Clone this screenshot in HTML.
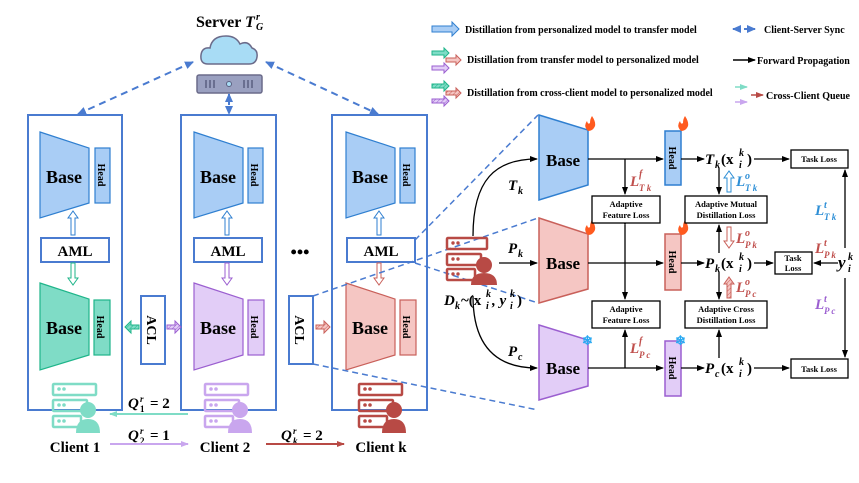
<!DOCTYPE html>
<html><head><meta charset="utf-8"><style>
html,body{margin:0;padding:0;background:#fff;}
svg{display:block;font-family:"Liberation Serif",serif;font-weight:bold;}
.m{font-style:italic;}
</style></head><body>
<svg width="859" height="483" viewBox="0 0 859 483" xmlns="http://www.w3.org/2000/svg">
<defs>
<marker id="ak" markerWidth="8" markerHeight="8" refX="7" refY="4" orient="auto" markerUnits="userSpaceOnUse"><path d="M0,1 L8,4 L0,7 Z" fill="#000"/></marker>
<marker id="ab" markerWidth="9" markerHeight="9" refX="8" refY="4.5" orient="auto" markerUnits="userSpaceOnUse"><path d="M0,0.5 L9,4.5 L0,8.5 Z" fill="#4a7bd0"/></marker>
<marker id="abs" markerWidth="9" markerHeight="9" refX="1" refY="4.5" orient="auto" markerUnits="userSpaceOnUse"><path d="M9,0.5 L0,4.5 L9,8.5 Z" fill="#4a7bd0"/></marker>
<marker id="ag" markerWidth="8" markerHeight="8" refX="7" refY="4" orient="auto" markerUnits="userSpaceOnUse"><path d="M0,1 L8,4 L0,7 Z" fill="#7fdcc6"/></marker>
<marker id="ap" markerWidth="8" markerHeight="8" refX="7" refY="4" orient="auto" markerUnits="userSpaceOnUse"><path d="M0,1 L8,4 L0,7 Z" fill="#c9a6ee"/></marker>
<marker id="ar" markerWidth="8" markerHeight="8" refX="7" refY="4" orient="auto" markerUnits="userSpaceOnUse"><path d="M0,1 L8,4 L0,7 Z" fill="#b84a45"/></marker>
<pattern id="hg" width="3" height="3" patternUnits="userSpaceOnUse" patternTransform="rotate(45)"><rect width="3" height="3" fill="#7fdcc6"/><line x1="0" y1="0" x2="0" y2="3" stroke="#1fb58a" stroke-width="1"/></pattern>
<pattern id="hp" width="3" height="3" patternUnits="userSpaceOnUse" patternTransform="rotate(45)"><rect width="3" height="3" fill="#e2cdf7"/><line x1="0" y1="0" x2="0" y2="3" stroke="#9b5fd0" stroke-width="1"/></pattern>
<pattern id="hr" width="3" height="3" patternUnits="userSpaceOnUse" patternTransform="rotate(45)"><rect width="3" height="3" fill="#f5c6c3"/><line x1="0" y1="0" x2="0" y2="3" stroke="#c9605a" stroke-width="1"/></pattern>
</defs>

<!-- Server -->
<text x="196" y="27" font-size="16">Server <tspan class="m">T</tspan></text>
<text x="256" y="20" font-size="10" class="m">r</text>
<text x="256" y="30" font-size="10" class="m">G</text>
<path d="M208,64 Q200,64 201,55 Q202,47 210,48 Q212,36 226,36 Q236,36 240,44 Q248,40 252,48 Q258,50 257,57 Q256,64 249,64 Z" fill="#a8dcf5" stroke="#6b6b8a" stroke-width="1.5"/>
<rect x="197" y="75" width="65" height="18" rx="2" fill="#9aa0c0" stroke="#6b6b8a" stroke-width="1.5"/>
<g stroke="#5a5f80" stroke-width="1.5"><line x1="206" y1="80" x2="206" y2="88"/><line x1="210" y1="80" x2="210" y2="88"/><line x1="214" y1="80" x2="214" y2="88"/><line x1="244" y1="80" x2="244" y2="88"/><line x1="248" y1="80" x2="248" y2="88"/><line x1="252" y1="80" x2="252" y2="88"/></g>
<circle cx="229" cy="84" r="2.5" fill="#a8dcf5" stroke="#5a5f80"/>
<g stroke="#4a7bd0" stroke-width="2" stroke-dasharray="7,5" fill="none">
<line x1="193" y1="62" x2="78" y2="114" marker-start="url(#abs)" marker-end="url(#ab)"/>
<line x1="266" y1="62" x2="378" y2="114" marker-start="url(#abs)" marker-end="url(#ab)"/>
<line x1="229" y1="94" x2="229" y2="114" stroke-dasharray="4,3" marker-start="url(#abs)" marker-end="url(#ab)"/>
</g>

<g fill="none" stroke="#4a7bd0" stroke-width="2">
<rect x="28" y="115" width="94" height="295"/>
<rect x="181" y="115" width="95" height="295"/>
<rect x="332" y="115" width="95" height="295"/>
</g>

<g font-size="15">
<polygon points="40,132 89,148 89,203 40,218" fill="#a9cdf5" stroke="#2f7fd0" stroke-width="1.2"/>
<text x="64" y="183" text-anchor="middle" font-size="18">Base</text>
<rect x="95" y="148" width="15" height="55" fill="#a9cdf5" stroke="#2f7fd0" stroke-width="1.2"/>
<text transform="translate(98,175) rotate(90)" text-anchor="middle" font-size="10">Head</text>
<polygon points="71,235 75,235 75,218 78,218 73,211 68,218 71,218" fill="#fff" stroke="#2f7fd0"/>
<rect x="41" y="238" width="68" height="24" fill="#fff" stroke="#4a7bd0" stroke-width="2"/>
<text x="75" y="256" text-anchor="middle">AML</text>
<polygon points="71,263 75,263 75,278 78,278 73,285 68,278 71,278" fill="#fff" stroke="#1fb58a"/>
<polygon points="40,283 89,299 89,355 40,370" fill="#7fdcc6" stroke="#1fb58a" stroke-width="1.2"/>
<text x="64" y="334" text-anchor="middle" font-size="18">Base</text>
<rect x="94" y="300" width="16" height="55" fill="#7fdcc6" stroke="#1fb58a" stroke-width="1.2"/>
<text transform="translate(97,327) rotate(90)" text-anchor="middle" font-size="10">Head</text>

<polygon points="194,132 243,148 243,203 194,218" fill="#a9cdf5" stroke="#2f7fd0" stroke-width="1.2"/>
<text x="218" y="183" text-anchor="middle" font-size="18">Base</text>
<rect x="248" y="148" width="15" height="55" fill="#a9cdf5" stroke="#2f7fd0" stroke-width="1.2"/>
<text transform="translate(251,175) rotate(90)" text-anchor="middle" font-size="10">Head</text>
<polygon points="225,235 229,235 229,218 232,218 227,211 222,218 225,218" fill="#fff" stroke="#2f7fd0"/>
<rect x="194" y="238" width="68" height="24" fill="#fff" stroke="#4a7bd0" stroke-width="2"/>
<text x="228" y="256" text-anchor="middle">AML</text>
<polygon points="225,263 229,263 229,278 232,278 227,285 222,278 225,278" fill="#fff" stroke="#9b5fd0"/>
<polygon points="194,283 243,299 243,355 194,370" fill="#e2cdf7" stroke="#9b5fd0" stroke-width="1.2"/>
<text x="218" y="334" text-anchor="middle" font-size="18">Base</text>
<rect x="248" y="300" width="16" height="55" fill="#e2cdf7" stroke="#9b5fd0" stroke-width="1.2"/>
<text transform="translate(251,327) rotate(90)" text-anchor="middle" font-size="10">Head</text>

<polygon points="346,132 395,148 395,203 346,218" fill="#a9cdf5" stroke="#2f7fd0" stroke-width="1.2"/>
<text x="370" y="183" text-anchor="middle" font-size="18">Base</text>
<rect x="400" y="148" width="15" height="55" fill="#a9cdf5" stroke="#2f7fd0" stroke-width="1.2"/>
<text transform="translate(403,175) rotate(90)" text-anchor="middle" font-size="10">Head</text>
<polygon points="377,235 381,235 381,218 384,218 379,211 374,218 377,218" fill="#fff" stroke="#2f7fd0"/>
<rect x="347" y="238" width="68" height="24" fill="#fff" stroke="#4a7bd0" stroke-width="2"/>
<text x="381" y="256" text-anchor="middle">AML</text>
<polygon points="377,263 381,263 381,278 384,278 379,285 374,278 377,278" fill="#fff" stroke="#c9605a"/>
<polygon points="346,283 395,299 395,355 346,370" fill="#f5c6c3" stroke="#c9605a" stroke-width="1.2"/>
<text x="370" y="334" text-anchor="middle" font-size="18">Base</text>
<rect x="400" y="300" width="16" height="55" fill="#f5c6c3" stroke="#c9605a" stroke-width="1.2"/>
<text transform="translate(403,327) rotate(90)" text-anchor="middle" font-size="10">Head</text>

<rect x="141" y="296" width="24" height="68" fill="#fff" stroke="#4a7bd0" stroke-width="2"/>
<text transform="translate(147,330) rotate(90)" text-anchor="middle" font-size="14">ACL</text>
<rect x="289" y="296" width="24" height="68" fill="#fff" stroke="#4a7bd0" stroke-width="2"/>
<text transform="translate(295,330) rotate(90)" text-anchor="middle" font-size="14">ACL</text>
<polygon points="139,325 131,325 131,321 125,327 131,333 131,329 139,329" fill="url(#hg)" stroke="#1fb58a"/>
<polygon points="167,325 175,325 175,321 181,327 175,333 175,329 167,329" fill="url(#hp)" stroke="#9b5fd0"/>
<polygon points="316,325 324,325 324,321 330,327 324,333 324,329 316,329" fill="url(#hr)" stroke="#c9605a"/>
<text x="300" y="258" text-anchor="middle" font-size="18">•••</text>
</g>

<g fill="none" stroke="#7fdcc6" stroke-width="2.5">
<rect x="53" y="384" width="43" height="11" rx="1"/><rect x="53" y="400" width="34" height="11" rx="1"/><rect x="53" y="416" width="28" height="11" rx="1"/>
</g>
<g fill="#7fdcc6"><circle cx="59" cy="389" r="1.8"/><circle cx="64" cy="389" r="1.8"/><circle cx="59" cy="405" r="1.8"/><circle cx="64" cy="405" r="1.8"/><circle cx="59" cy="421" r="1.8"/><circle cx="64" cy="421" r="1.8"/>
<circle cx="88" cy="410" r="8"/><path d="M76,433 Q76,419 88,419 Q100,419 100,433 Z"/></g>

<g fill="none" stroke="#c9a6ee" stroke-width="2.5">
<rect x="205" y="384" width="43" height="11" rx="1"/><rect x="205" y="400" width="34" height="11" rx="1"/><rect x="205" y="416" width="28" height="11" rx="1"/>
</g>
<g fill="#c9a6ee"><circle cx="211" cy="389" r="1.8"/><circle cx="216" cy="389" r="1.8"/><circle cx="211" cy="405" r="1.8"/><circle cx="216" cy="405" r="1.8"/><circle cx="211" cy="421" r="1.8"/><circle cx="216" cy="421" r="1.8"/>
<circle cx="240" cy="410" r="8"/><path d="M228,433 Q228,419 240,419 Q252,419 252,433 Z"/></g>

<g fill="none" stroke="#b84a45" stroke-width="2.5">
<rect x="359" y="384" width="43" height="11" rx="1"/><rect x="359" y="400" width="34" height="11" rx="1"/><rect x="359" y="416" width="28" height="11" rx="1"/>
</g>
<g fill="#b84a45"><circle cx="365" cy="389" r="1.8"/><circle cx="370" cy="389" r="1.8"/><circle cx="365" cy="405" r="1.8"/><circle cx="370" cy="405" r="1.8"/><circle cx="365" cy="421" r="1.8"/><circle cx="370" cy="421" r="1.8"/>
<circle cx="394" cy="410" r="8"/><path d="M382,433 Q382,419 394,419 Q406,419 406,433 Z"/></g>

<g font-size="15">
<text x="75" y="452" text-anchor="middle">Client 1</text>
<text x="225" y="452" text-anchor="middle">Client 2</text>
<text x="381" y="452" text-anchor="middle">Client k</text>
<text x="128" y="408"><tspan class="m">Q</tspan></text>
<text x="140" y="402" font-size="9" class="m">r</text><text x="140" y="412" font-size="9">1</text><text x="150" y="408">= 2</text>
<text x="128" y="440"><tspan class="m">Q</tspan></text>
<text x="140" y="434" font-size="9" class="m">r</text><text x="140" y="444" font-size="9">2</text><text x="150" y="440">= 1</text>
<text x="281" y="440"><tspan class="m">Q</tspan></text>
<text x="293" y="434" font-size="9" class="m">r</text><text x="293" y="444" font-size="9" class="m">k</text><text x="303" y="440">= 2</text>
</g>
<line x1="188" y1="414" x2="110" y2="414" stroke="#7fdcc6" stroke-width="2" marker-end="url(#ag)"/>
<line x1="110" y1="444" x2="188" y2="444" stroke="#c9a6ee" stroke-width="2" marker-end="url(#ap)"/>
<line x1="266" y1="444" x2="344" y2="444" stroke="#b84a45" stroke-width="2" marker-end="url(#ar)"/>

<g stroke="#4a7bd0" stroke-width="1.5" stroke-dasharray="6,4" fill="none">
<line x1="415" y1="240" x2="538" y2="115"/>
<line x1="415" y1="263" x2="538" y2="303"/>
<line x1="313" y1="296" x2="538" y2="218"/>
<line x1="313" y1="364" x2="538" y2="410"/>
</g>

<g font-size="10">
<polygon points="432,26 452,26 452,22 459,29 452,36 452,32 432,32" fill="#a9cdf5" stroke="#2f7fd0"/>
<text x="465" y="33">Distillation from personalized model to transfer model</text>
<line x1="733" y1="29" x2="740" y2="29" stroke="#4a7bd0" stroke-width="2" marker-start="url(#abs)"/>
<line x1="744" y1="29" x2="755" y2="29" stroke="#4a7bd0" stroke-width="2" marker-end="url(#ab)"/>
<text x="764" y="33">Client-Server Sync</text>
<polygon points="432,51 444,51 444,48 449,53 444,58 444,55 432,55" fill="#7fdcc6" stroke="#1fb58a"/>
<polygon points="446,58 456,58 456,55 461,60 456,65 456,62 446,62" fill="#f5c6c3" stroke="#c9605a"/>
<polygon points="432,66 444,66 444,63 449,68 444,73 444,70 432,70" fill="#e2cdf7" stroke="#9b5fd0"/>
<text x="467" y="63">Distillation from transfer model to personalized model</text>
<line x1="733" y1="60" x2="755" y2="60" stroke="#000" stroke-width="1.5" marker-end="url(#ak)"/>
<text x="757" y="64">Forward Propagation</text>
<polygon points="432,84 444,84 444,81 449,86 444,91 444,88 432,88" fill="url(#hg)" stroke="#1fb58a"/>
<polygon points="446,91 456,91 456,88 461,93 456,98 456,95 446,95" fill="url(#hr)" stroke="#c9605a"/>
<polygon points="432,99 444,99 444,96 449,101 444,106 444,103 432,103" fill="url(#hp)" stroke="#9b5fd0"/>
<text x="467" y="96">Distillation from cross-client model to personalized model</text>
<line x1="735" y1="87" x2="747" y2="87" stroke="#7fdcc6" stroke-width="1.5" marker-end="url(#ag)"/>
<line x1="751" y1="95" x2="763" y2="95" stroke="#b84a45" stroke-width="1.5" marker-end="url(#ar)"/>
<line x1="735" y1="102" x2="747" y2="102" stroke="#c9a6ee" stroke-width="1.5" marker-end="url(#ap)"/>
<text x="766" y="99">Cross-Client Queue</text>
</g>

<polygon points="539,115 588,130 588,185 539,200" fill="#a9cdf5" stroke="#2f7fd0" stroke-width="1.5"/>
<text x="563" y="166" text-anchor="middle" font-size="17">Base</text>
<polygon points="539,218 588,234 588,289 539,303" fill="#f5c6c3" stroke="#c9605a" stroke-width="1.5"/>
<text x="563" y="269" text-anchor="middle" font-size="17">Base</text>
<polygon points="539,325 588,340 588,386 539,400" fill="#e2cdf7" stroke="#9b5fd0" stroke-width="1.5"/>
<text x="563" y="374" text-anchor="middle" font-size="17">Base</text>

<rect x="665" y="131" width="16" height="54" fill="#a9cdf5" stroke="#2f7fd0" stroke-width="1.5"/>
<text transform="translate(669,158) rotate(90)" text-anchor="middle" font-size="10">Head</text>
<rect x="665" y="234" width="16" height="56" fill="#f5c6c3" stroke="#c9605a" stroke-width="1.5"/>
<text transform="translate(669,262) rotate(90)" text-anchor="middle" font-size="10">Head</text>
<rect x="665" y="341" width="16" height="55" fill="#e2cdf7" stroke="#9b5fd0" stroke-width="1.5"/>
<text transform="translate(669,368) rotate(90)" text-anchor="middle" font-size="10">Head</text>

<g fill="#ff5a1f"><path d="M588,131 q-5,-5 -1,-10 q1,4 3,2 q0,-4 2,-7 q4,6 3,10 q-2,5 -7,5z"/><path d="M681,131 q-5,-5 -1,-10 q1,4 3,2 q0,-4 2,-7 q4,6 3,10 q-2,5 -7,5z"/><path d="M588,235 q-5,-5 -1,-10 q1,4 3,2 q0,-4 2,-7 q4,6 3,10 q-2,5 -7,5z"/><path d="M681,235 q-5,-5 -1,-10 q1,4 3,2 q0,-4 2,-7 q4,6 3,10 q-2,5 -7,5z"/></g>
<g font-size="13" fill="#29a9f2"><text x="582" y="345">❄</text><text x="675" y="345">❄</text></g>

<g stroke="#000" stroke-width="1.3" fill="none">
<line x1="588" y1="159" x2="663" y2="159" marker-end="url(#ak)"/>
<line x1="588" y1="263" x2="663" y2="263" marker-end="url(#ak)"/>
<line x1="588" y1="368" x2="663" y2="368" marker-end="url(#ak)"/>
<line x1="625" y1="159" x2="625" y2="194" marker-end="url(#ak)"/>
<line x1="625" y1="225" x2="625" y2="299" marker-start="url(#ak)" marker-end="url(#ak)"/>
<line x1="625" y1="368" x2="625" y2="330" marker-end="url(#ak)"/>
<line x1="681" y1="159" x2="704" y2="159" marker-end="url(#ak)"/>
<line x1="681" y1="263" x2="704" y2="263" marker-end="url(#ak)"/>
<line x1="681" y1="368" x2="704" y2="368" marker-end="url(#ak)"/>
<line x1="754" y1="159" x2="789" y2="159" marker-end="url(#ak)"/>
<line x1="754" y1="263" x2="773" y2="263" marker-end="url(#ak)"/>
<line x1="754" y1="368" x2="789" y2="368" marker-end="url(#ak)"/>
<line x1="719" y1="168" x2="719" y2="194" marker-end="url(#ak)"/>
<line x1="719" y1="253" x2="719" y2="225" marker-end="url(#ak)"/>
<line x1="719" y1="272" x2="719" y2="299" marker-end="url(#ak)"/>
<line x1="719" y1="358" x2="719" y2="330" marker-end="url(#ak)"/>
<line x1="838" y1="263" x2="814" y2="263" marker-end="url(#ak)"/>
<line x1="845" y1="248" x2="845" y2="170" marker-end="url(#ak)"/>
<line x1="845" y1="278" x2="845" y2="357" marker-end="url(#ak)"/>
<path d="M473,236 C473,180 495,159 537,159" marker-end="url(#ak)"/>
<line x1="499" y1="263" x2="537" y2="263" marker-end="url(#ak)"/>
<path d="M473,296 C473,345 495,368 537,368" marker-end="url(#ak)"/>
</g>

<polygon points="727,192 731,192 731,178 734,178 729,171 724,178 727,178" fill="#fff" stroke="#2e8fd6"/>
<polygon points="727,227 731,227 731,241 734,241 729,248 724,241 727,241" fill="#fff" stroke="#c9605a"/>
<polygon points="727,298 731,298 731,284 734,284 729,277 724,284 727,284" fill="url(#hr)" stroke="#c9605a"/>

<g font-size="8.5" text-anchor="middle" fill="#000">
<rect x="592" y="196" width="68" height="27" fill="#fff" stroke="#000" stroke-width="1.3"/>
<text x="626" y="207">Adaptive</text><text x="626" y="218">Feature Loss</text>
<rect x="592" y="301" width="68" height="27" fill="#fff" stroke="#000" stroke-width="1.3"/>
<text x="626" y="312">Adaptive</text><text x="626" y="323">Feature Loss</text>
<rect x="685" y="196" width="82" height="27" fill="#fff" stroke="#000" stroke-width="1.3"/>
<text x="726" y="207">Adaptive Mutual</text><text x="726" y="218">Distillation Loss</text>
<rect x="685" y="301" width="82" height="27" fill="#fff" stroke="#000" stroke-width="1.3"/>
<text x="726" y="312">Adaptive Cross</text><text x="726" y="323">Distillation Loss</text>
<rect x="791" y="150" width="57" height="18" fill="#fff" stroke="#000" stroke-width="1.3"/>
<text x="819" y="162">Task Loss</text>
<rect x="775" y="252" width="37" height="22" fill="#fff" stroke="#000" stroke-width="1.3"/>
<text x="793" y="261">Task</text><text x="793" y="271">Loss</text>
<rect x="791" y="359" width="57" height="19" fill="#fff" stroke="#000" stroke-width="1.3"/>
<text x="819" y="372">Task Loss</text>
</g>

<g fill="none" stroke="#b84a45" stroke-width="2.5">
<rect x="447" y="238" width="40" height="11" rx="1"/><rect x="447" y="254" width="34" height="11" rx="1"/><rect x="447" y="269" width="28" height="11" rx="1"/>
</g>
<g fill="#b84a45"><circle cx="453" cy="243" r="1.7"/><circle cx="458" cy="243" r="1.7"/><circle cx="453" cy="259" r="1.7"/><circle cx="458" cy="259" r="1.7"/><circle cx="453" cy="274" r="1.7"/><circle cx="458" cy="274" r="1.7"/>
<circle cx="484" cy="265" r="8"/><path d="M471,285 Q471,273 484,273 Q497,273 497,285 Z"/></g>

<g class="m" font-size="15">
<text x="508" y="190">T</text><text x="518" y="194" font-size="10">k</text>
<text x="508" y="253">P</text><text x="518" y="257" font-size="10">k</text>
<text x="508" y="356">P</text><text x="518" y="360" font-size="10">c</text>
<text x="444" y="305">D</text><text x="455" y="309" font-size="10">k</text>
<text x="461" y="305" font-style="normal">~(x</text><text x="486" y="297" font-size="10">k</text><text x="486" y="309" font-size="10">i</text><text x="492" y="305">, y</text><text x="510" y="297" font-size="10">k</text><text x="510" y="309" font-size="10">i</text><text x="517" y="305" font-style="normal">)</text>

<text x="705" y="164">T</text><text x="715" y="168" font-size="10">k</text><text x="721" y="164" font-style="normal">(x</text><text x="739" y="156" font-size="10">k</text><text x="739" y="168" font-size="10">i</text><text x="747" y="164" font-style="normal">)</text>
<text x="705" y="268">P</text><text x="715" y="272" font-size="10">k</text><text x="721" y="268" font-style="normal">(x</text><text x="739" y="260" font-size="10">k</text><text x="739" y="272" font-size="10">i</text><text x="747" y="268" font-style="normal">)</text>
<text x="705" y="373">P</text><text x="715" y="377" font-size="10">c</text><text x="721" y="373" font-style="normal">(x</text><text x="739" y="365" font-size="10">k</text><text x="739" y="377" font-size="10">i</text><text x="747" y="373" font-style="normal">)</text>
<text x="838" y="268" font-size="17">y</text><text x="848" y="260" font-size="10">k</text><text x="848" y="272" font-size="10">i</text>

<g fill="#c0504d">
<text x="630" y="186">L</text><text x="639" y="177" font-size="10">f</text><text x="639" y="191" font-size="9">T k</text>
<text x="630" y="353">L</text><text x="639" y="344" font-size="10">f</text><text x="639" y="358" font-size="9">P c</text>
<text x="736" y="243">L</text><text x="745" y="236" font-size="10">o</text><text x="745" y="248" font-size="9">P k</text>
<text x="736" y="292">L</text><text x="745" y="285" font-size="10">o</text><text x="745" y="297" font-size="9">P c</text>
<text x="815" y="253">L</text><text x="824" y="246" font-size="10">t</text><text x="824" y="258" font-size="9">P k</text>
</g>
<g fill="#2e8fd6">
<text x="736" y="186">L</text><text x="745" y="179" font-size="10">o</text><text x="745" y="191" font-size="9">T k</text>
<text x="815" y="215">L</text><text x="824" y="208" font-size="10">t</text><text x="824" y="220" font-size="9">T k</text>
</g>
<g fill="#9b5fd0">
<text x="815" y="309">L</text><text x="824" y="302" font-size="10">t</text><text x="824" y="314" font-size="9">P c</text>
</g>
</g>
</svg>
</body></html>
